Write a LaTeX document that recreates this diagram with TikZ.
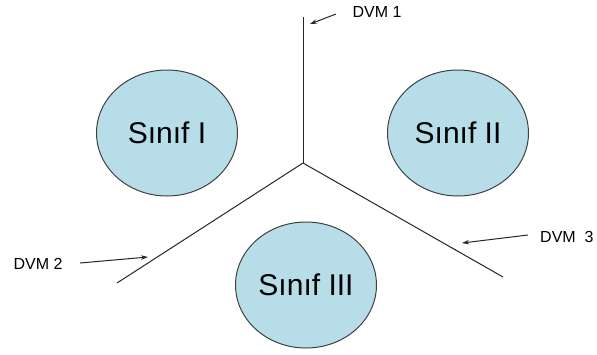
\documentclass[tikz,border=0pt]{standalone}
\usepackage{fontspec}
\setmainfont{Liberation Sans}
\usetikzlibrary{shapes.geometric,arrows.meta}

\definecolor{classfill}{HTML}{B7DEE8}
\definecolor{classline}{HTML}{404040}

\tikzset{
  classnode/.style={ellipse, draw=classline, line width=1pt, fill=classfill,
    minimum width=141pt, minimum height=126pt, inner sep=0pt,
    font=\fontsize{30}{36}\selectfont},
  divider/.style={draw=black!85, line width=1pt},
  pointer/.style={draw=black!85, line width=1pt, -{Stealth[length=7pt,width=4.5pt]}},
  tag/.style={inner sep=0pt, font=\fontsize{16}{19}\selectfont}
}

\begin{document}
\begin{tikzpicture}[x=1pt, y=-1pt]
  \useasboundingbox (0,0) rectangle (597,354);

  % class regions
  \node[classnode] (c1) at (167,133) {Sınıf I};
  \node[classnode] (c2) at (458,133) {Sınıf II};
  \node[classnode] (c3) at (306,285) {Sınıf III};

  % separating lines meeting at a common point
  \coordinate (hub) at (303,163);
  \coordinate (top) at (303,17);
  \coordinate (lowleft) at (117,283);
  \coordinate (lowright) at (503,277);
  \draw[divider] (top) -- (hub);
  \draw[divider] (hub) -- (lowleft);
  \draw[divider] (hub) -- (lowright);

  % labels
  \node[tag] (d1) at (377,12) {DVM 1};
  \node[tag] (d2) at (38,264) {DVM 2};
  \node[tag, anchor=west] (d3) at (540,237) {DVM\ \ 3};

  % pointers from labels to the lines
  \coordinate (t1) at (336,14);  \coordinate (h1) at (310,24);
  \coordinate (t2) at (80,263);  \coordinate (h2) at (148,257);
  \coordinate (t3) at (528,235); \coordinate (h3) at (462,243);
  \draw[pointer] (t1) -- (h1);
  \draw[pointer] (t2) -- (h2);
  \draw[pointer] (t3) -- (h3);
\end{tikzpicture}
\end{document}
